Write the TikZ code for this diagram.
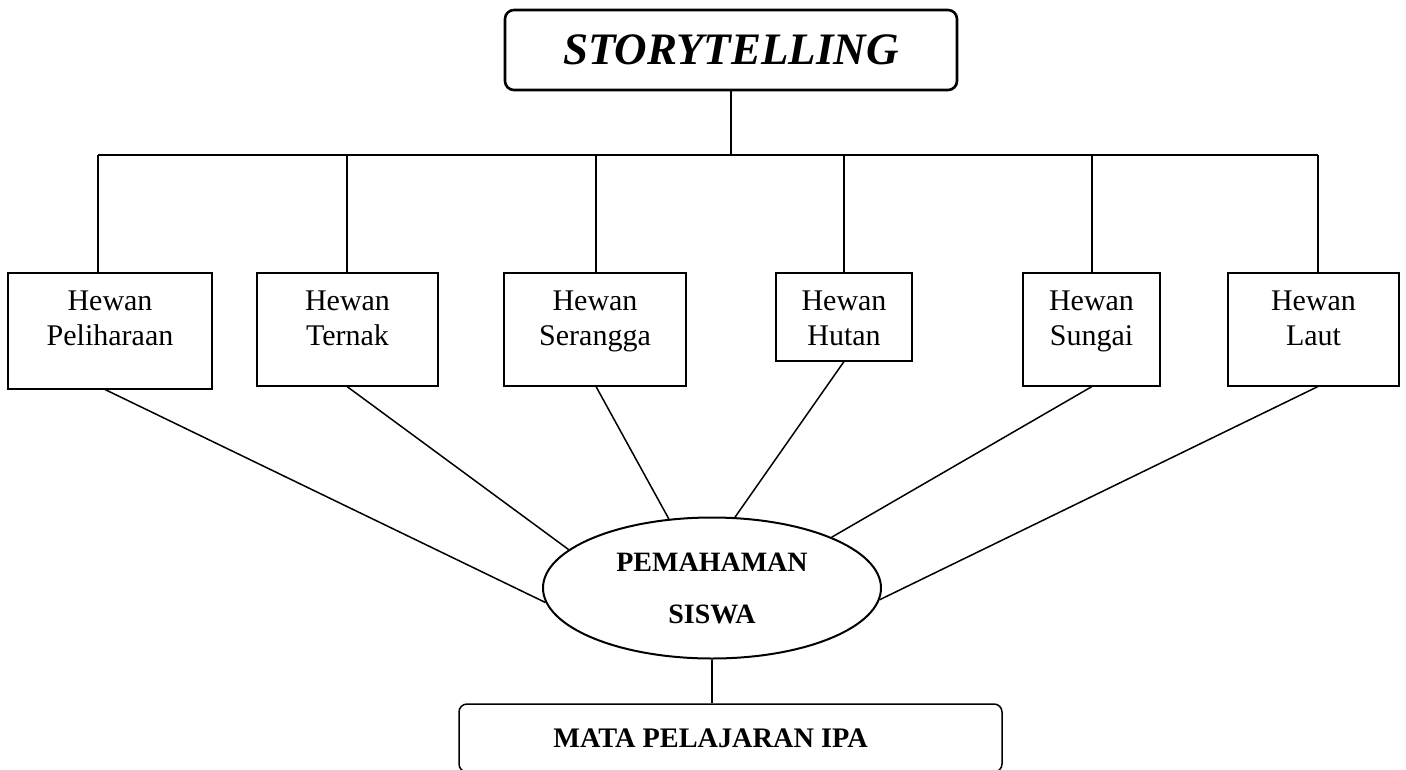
\documentclass[tikz,border=0pt]{standalone}
\usepackage{fontspec}
\setmainfont{Liberation Serif}
\usetikzlibrary{shapes.geometric}
\begin{document}
\begin{tikzpicture}[x=1pt,y=-1pt,
  conn/.style={line width=1.5pt},
  topbox/.style={draw,line width=2.6pt,rounded corners=9pt,minimum width=452pt,minimum height=80pt,inner sep=0pt,
    font=\fontsize{45}{50}\selectfont\bfseries\itshape},
  animal/.style={draw,line width=1.5pt,anchor=north,align=center,inner xsep=0pt,inner ysep=0pt,
    text height=73pt,font=\fontsize{30}{35}\selectfont},
  ellbox/.style={draw,ellipse,line width=2pt,minimum width=338pt,minimum height=141pt,inner sep=0pt,align=center,
    font=\fontsize{28}{52}\selectfont\bfseries},
  ipabox/.style={draw,line width=1.5pt,rounded corners=8pt,minimum width=543pt,minimum height=68pt,inner sep=0pt,
    font=\fontsize{28.3}{32}\selectfont\bfseries}
]
\useasboundingbox (0,0) rectangle (1406,769);
\clip (0,0) rectangle (1406,769);

\node[topbox] (top) at (731,50) {STORYTELLING};

\coordinate (b1) at (98,155);
\coordinate (b2) at (347,155);
\coordinate (b3) at (596,155);
\coordinate (b4) at (844,155);
\coordinate (b5) at (1092,155);
\coordinate (b6) at (1318,155);

\node[animal,minimum width=204pt,text depth=43pt] (c1) at (110,272) {Hewan\\Peliharaan};
\node[animal,minimum width=181pt,text depth=40pt] (c2) at (347.5,272) {Hewan\\Ternak};
\node[animal,minimum width=182pt,text depth=40pt] (c3) at (595,272) {Hewan\\Serangga};
\node[animal,minimum width=136pt,text depth=15pt] (c4) at (844,272) {Hewan\\Hutan};
\node[animal,minimum width=137pt,text depth=40pt] (c5) at (1091.5,272) {Hewan\\Sungai};
\node[animal,minimum width=171pt,text depth=40pt] (c6) at (1313.5,272) {Hewan\\Laut};

\node[ellbox] (ell) at (712,588) {PEMAHAMAN\\SISWA};

\node[ipabox] (ipa) at (730.5,738) {\hspace*{-40pt}MATA PELAJARAN IPA};

% tree from top
\draw[conn] (top.south) -- (top.south |- b1);
\draw[conn] (b1) -- (b6);
\foreach \i in {1,...,6} {
  \draw[conn] (b\i) -- (b\i |- c\i.north);
}

% connectors to ellipse
\draw[conn] (b1 |- c1.south) ++(7,0) -- (ell.185);
\draw[conn] (b2 |- c2.south) -- (ell.165);
\draw[conn] (b3 |- c3.south) -- (ell.122);
\draw[conn] (b4 |- c4.south) -- (ell.72);
\draw[conn] (b5 |- c5.south) -- (ell.23.6);
\draw[conn] (b6 |- c6.south) -- (ell.-4.9);

\draw[conn] (ell.south) -- (ell.south |- ipa.north);
\end{tikzpicture}
\end{document}
